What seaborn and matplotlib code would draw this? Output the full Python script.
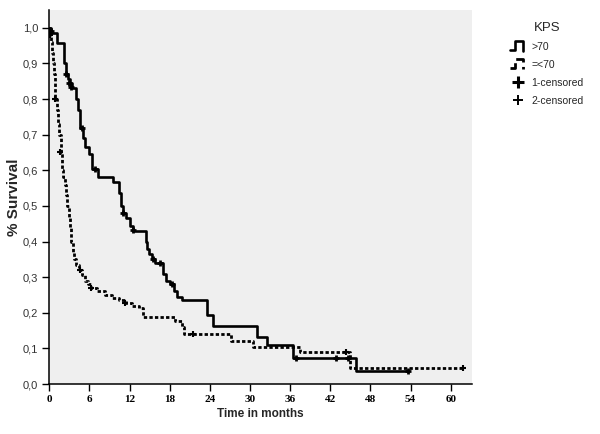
import matplotlib
matplotlib.use('Agg')
import matplotlib.pyplot as plt
from matplotlib.legend_handler import HandlerBase
from matplotlib.lines import Line2D
import numpy as np
import pandas as pd
import seaborn as sns

# step curves (time in months, survival from that time on)
t_hi = [0, 0.3, 1.2, 2.2, 2.5, 2.8, 3.1, 3.4, 4.0, 4.3, 4.6, 5.0, 5.4, 6.0, 6.4, 7.3,
        9.5, 10.4, 10.7, 11.0, 11.5, 12.1, 12.5, 14.4, 14.6, 14.9, 15.3, 15.8, 17.0,
        17.5, 18.0, 18.6, 19.1, 19.9, 23.6, 24.4, 31.0, 32.5, 36.4, 45.9, 53.6]
s_hi = [1.0, 0.985, 0.957, 0.90, 0.87, 0.855, 0.845, 0.83, 0.80, 0.77, 0.72, 0.69,
        0.665, 0.645, 0.605, 0.58, 0.568, 0.535, 0.50, 0.48, 0.465, 0.445, 0.43, 0.40,
        0.38, 0.365, 0.35, 0.34, 0.31, 0.29, 0.28, 0.26, 0.245, 0.235, 0.195, 0.163,
        0.131, 0.110, 0.072, 0.037, 0.037]

t_lo = [0, 0.15, 0.3, 0.45, 0.6, 0.75, 0.9, 1.1, 1.3, 1.5, 1.7, 1.9, 2.1, 2.3, 2.5,
        2.7, 2.9, 3.1, 3.3, 3.5, 3.7, 4.0, 4.4, 4.9, 5.3, 5.8, 6.3, 7.2, 8.3, 9.4,
        10.5, 11.5, 12.4, 13.4, 14.0, 18.8, 19.9, 20.1, 27.2, 30.5, 37.5, 44.9, 62.0]
s_lo = [1.0, 0.98, 0.96, 0.93, 0.90, 0.87, 0.80, 0.77, 0.73, 0.70, 0.65, 0.60, 0.58,
        0.56, 0.53, 0.50, 0.47, 0.44, 0.40, 0.37, 0.35, 0.335, 0.32, 0.305, 0.29, 0.28,
        0.27, 0.262, 0.25, 0.243, 0.235, 0.227, 0.22, 0.213, 0.189, 0.178, 0.16, 0.14,
        0.122, 0.105, 0.091, 0.044, 0.044]

# censored observations
c_hi_t = [0.2, 2.45, 2.9, 3.2, 4.95, 6.9, 11.05, 12.55, 15.5, 16.5, 18.3, 36.8, 42.9, 44.7, 53.6]
c_hi_s = [0.99, 0.87, 0.845, 0.835, 0.72, 0.605, 0.48, 0.433, 0.35, 0.34, 0.28, 0.072, 0.072, 0.072, 0.037]
c_lo_t = [0.1, 0.85, 1.6, 4.6, 6.3, 11.3, 21.5, 44.4, 61.8]
c_lo_s = [0.98, 0.80, 0.65, 0.32, 0.27, 0.227, 0.14, 0.091, 0.044]

x_ticks = [0, 6, 12, 18, 24, 30, 36, 42, 48, 54, 60]
y_ticks = [0.0, 0.1, 0.2, 0.3, 0.4, 0.5, 0.6, 0.7, 0.8, 0.9, 1.0]

sns.set_theme(style="ticks")
plt.rcParams['font.family'] = ['Liberation Sans', 'DejaVu Sans']

fig = plt.figure(figsize=(6, 4.34), dpi=100)
ax = fig.add_axes([0.082, 0.115, 0.705, 0.862])
ax.set_facecolor('#efefef')

hi = pd.DataFrame({'t': t_hi, 's': s_hi})
lo = pd.DataFrame({'t': t_lo, 's': s_lo})
sns.lineplot(data=lo, x='t', y='s', drawstyle='steps-post', estimator=None, sort=False,
             color='black', lw=2.0, linestyle=(0, (1.2, 0.8)), ax=ax)
sns.lineplot(data=hi, x='t', y='s', drawstyle='steps-post', estimator=None, sort=False,
             color='black', lw=1.9, ax=ax)
sns.scatterplot(x=c_hi_t, y=c_hi_s, marker='+', s=22, color='black', linewidth=2, ax=ax)
sns.scatterplot(x=c_lo_t, y=c_lo_s, marker='+', s=16, color='black', linewidth=1.5, ax=ax)

ax.set_xlim(0, 63.2)
ax.set_ylim(0, 1.05)
ax.set_xticks(x_ticks)
ax.set_xticklabels([str(v) for v in x_ticks], family='Liberation Serif',
                   fontweight='bold', fontsize=8)
ax.set_yticks(y_ticks)
ax.set_yticklabels([f'{v:.1f}'.replace('.', ',') for v in y_ticks], fontsize=8)
ax.tick_params(direction='out', length=5, width=1, colors='black', pad=3)
for lab in ax.get_yticklabels():
    lab.set_color('#333333')
sns.despine(ax=ax)
for sp in ['left', 'bottom']:
    ax.spines[sp].set_linewidth(1.1)
    ax.spines[sp].set_color('black')
ax.set_xlabel('Time in months', fontsize=8.5, fontweight='bold', labelpad=3)
ax.set_ylabel('% Survival', fontsize=11, fontweight='bold')
ax.yaxis.set_label_coords(-0.066, 0.5)


class StepHandler(HandlerBase):
    def create_artists(self, legend, orig_handle, xdescent, ydescent, width, height,
                       fontsize, trans):
        x0, y0 = -xdescent, -ydescent
        xs = [x0, x0 + 0.35 * width, x0 + 0.35 * width, x0 + 0.85 * width, x0 + 0.85 * width]
        ys = [y0, y0, y0 + 1.3 * height, y0 + 1.3 * height, y0 - 0.1 * height]
        ln = Line2D(xs, ys, color='black', lw=orig_handle.get_linewidth(),
                    linestyle=orig_handle.get_linestyle(), transform=trans)
        return [ln]


h1 = Line2D([], [], color='black', lw=1.9)
h2 = Line2D([], [], color='black', lw=2.0, linestyle=(0, (1.2, 0.8)))
h3 = Line2D([], [], color='black', marker='+', ms=8, mew=2.2, linestyle='none')
h4 = Line2D([], [], color='black', marker='+', ms=7, mew=1.4, linestyle='none')
leg = fig.legend([h1, h2, h3, h4], ['>70', '=<70', '1-censored', '2-censored'],
                 title='KPS', loc='upper left', bbox_to_anchor=(0.835, 0.97),
                 frameon=False, fontsize=7.5, title_fontsize=9.5, handlelength=1.4,
                 handletextpad=0.6, labelspacing=0.75,
                 handler_map={h1: StepHandler(), h2: StepHandler()})
leg._legend_box.align = 'center'

fig.savefig('out.png', dpi=100)
